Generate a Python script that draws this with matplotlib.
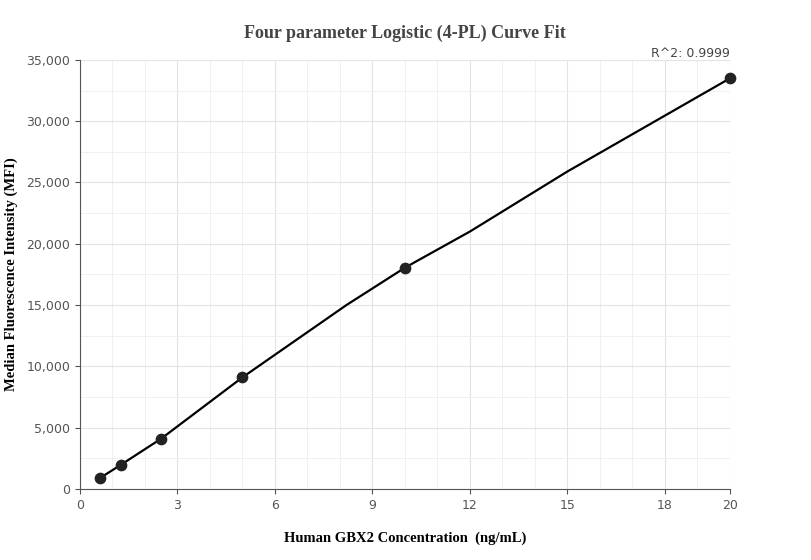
import matplotlib.pyplot as plt
import matplotlib.ticker as tick

# standards (measured points)
conc = [0.625, 1.25, 2.5, 5, 10, 20]
mfi = [900, 1950, 4050, 9100, 18050, 33500]

# fitted curve
curve_x = [0.625, 1.25, 2.5, 5, 8.2, 10, 12, 15, 20]
curve_y = [900, 1950, 4100, 9100, 15000, 18050, 21000, 25900, 33500]

x_ticks = [0, 3, 6, 9, 12, 15, 18, 20]

fig = plt.figure(figsize=(8.11, 5.6), dpi=100)
ax = fig.add_axes([0.0986, 0.127, 0.8015, 0.766])

ax.plot(curve_x, curve_y, color='black', lw=1.6, zorder=3)
ax.scatter(conc, mfi, s=55, color='#222222', zorder=4, clip_on=False)

ax.set_xlim(0, 20)
ax.set_ylim(0, 35000)
ax.xaxis.set_major_locator(tick.FixedLocator(x_ticks))
ax.xaxis.set_minor_locator(tick.MultipleLocator(1))
ax.yaxis.set_major_locator(tick.MultipleLocator(5000))
ax.yaxis.set_minor_locator(tick.MultipleLocator(2500))
ax.yaxis.set_major_formatter(tick.FuncFormatter(lambda v, p: '{:,.0f}'.format(v)))
ax.grid(which='major', color='#e3e3e3', lw=0.8)
ax.grid(which='minor', color='#f0f0f0', lw=0.7)
ax.set_axisbelow(True)

for s in ['top', 'right']:
    ax.spines[s].set_visible(False)
for s in ['left', 'bottom']:
    ax.spines[s].set_color('#555555')
ax.tick_params(which='both', colors='#555555', labelsize=9)
ax.tick_params(which='minor', length=0)

ax.set_title('Four parameter Logistic (4-PL) Curve Fit', fontfamily='Liberation Serif',
             fontweight='bold', fontsize=13, color='#444444', pad=16)
ax.set_xlabel('Human GBX2 Concentration  (ng/mL)', fontfamily='Liberation Serif',
              fontweight='bold', fontsize=10.5, color='black', labelpad=14)
ax.set_ylabel('Median Fluorescence Intensity (MFI)', fontfamily='Liberation Serif',
              fontweight='bold', fontsize=10.5, color='black', labelpad=6)

ax.text(20, 35000, 'R^2: 0.9999', ha='right', va='bottom', fontsize=9,
        color='#444444', clip_on=False)

fig.savefig('out.png', dpi=100)
